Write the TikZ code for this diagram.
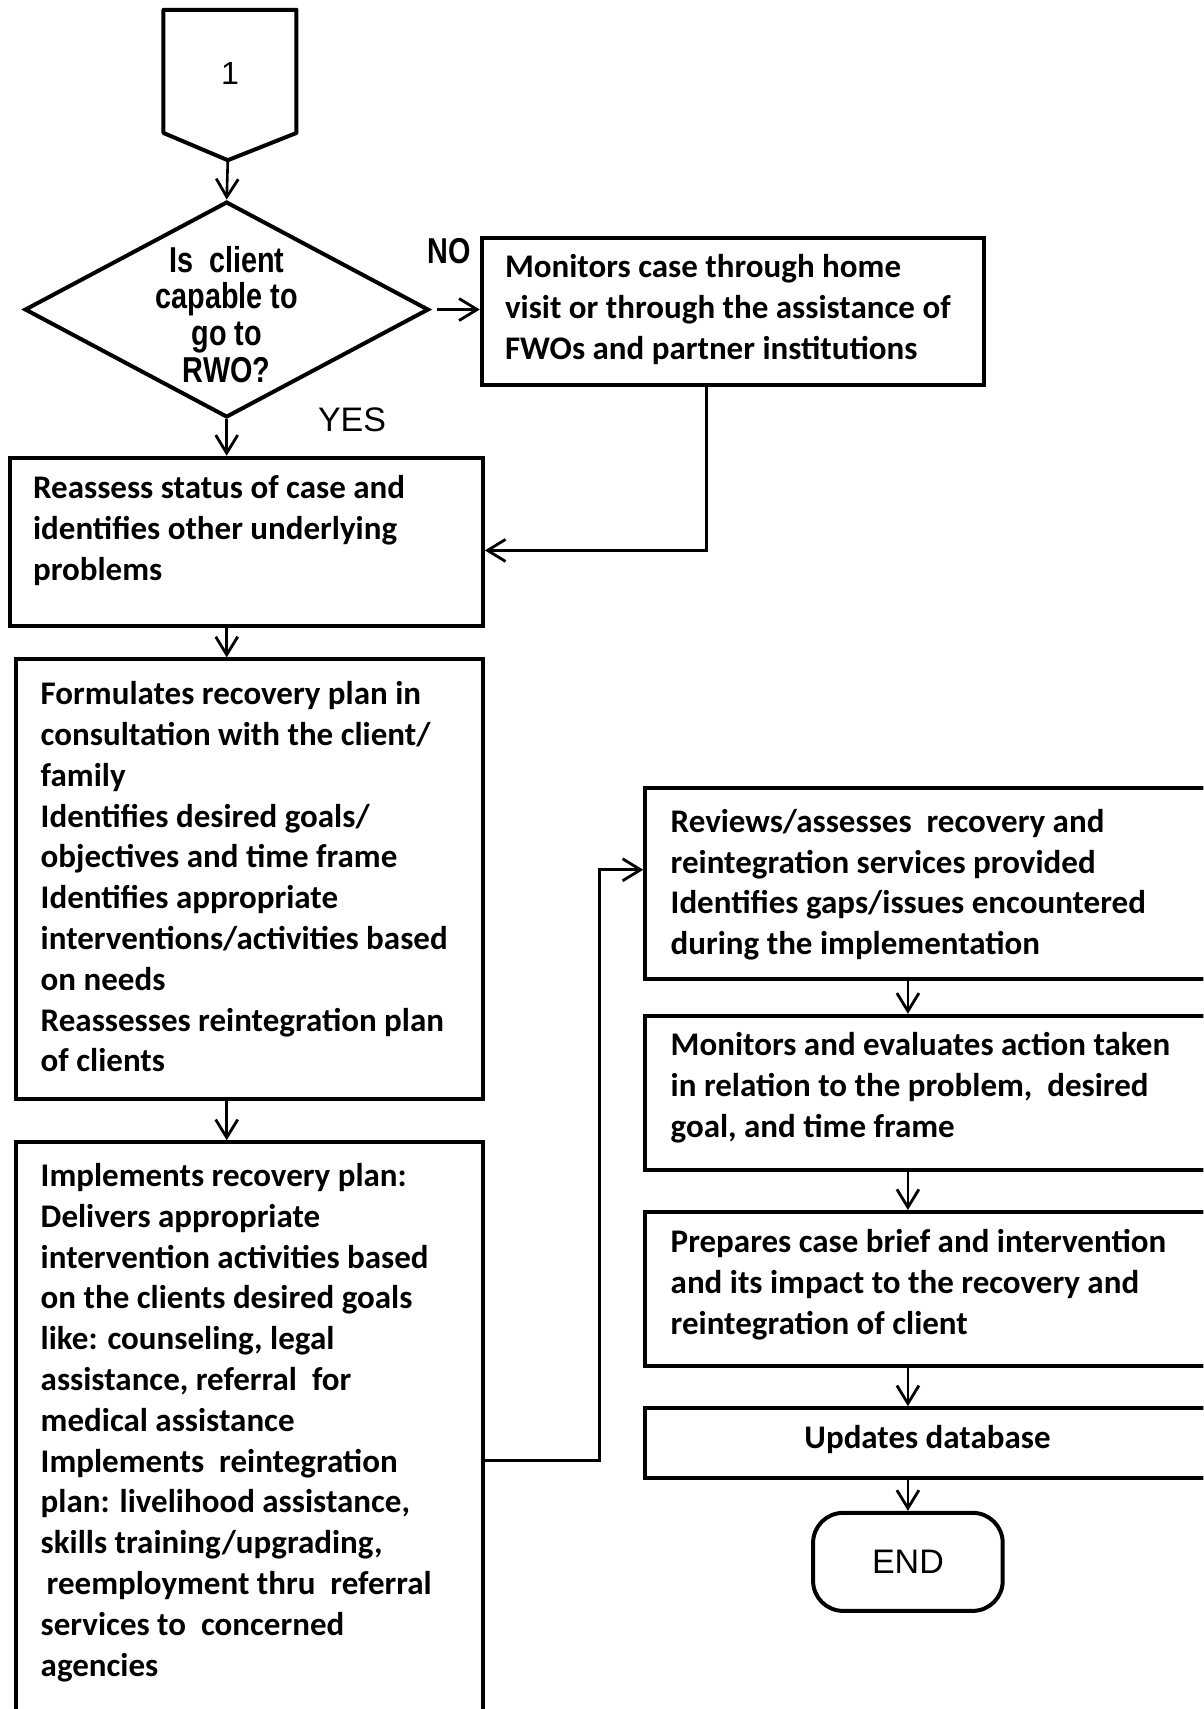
\documentclass[tikz,border=0pt]{standalone}
\usepackage{fontspec}
\setmainfont{Carlito}
\newfontfamily\narrowsans[FakeStretch=0.8]{Liberation Sans}
\newfontfamily\plainsans{Liberation Sans}
\usetikzlibrary{arrows.meta,shapes.geometric,fit}
\begin{document}
\begin{tikzpicture}[x=0.5449pt,y=-0.5449pt,
  outline/.style={draw, line width=2pt, line join=miter},
  box/.style={outline, inner sep=0pt, font=\bfseries\fontsize{16.5}{20.4}\selectfont},
  txt/.style={font=\bfseries\fontsize{16.5}{20.4}\selectfont, align=left, inner sep=0pt, anchor=north west},
  link/.style={line width=1.3pt},
  arr/.style={link, -{Straight Barb[length=9pt,width=11pt,line width=1.4pt]}},
  sign/.style={inner sep=0pt, font=\narrowsans\bfseries\fontsize{18}{20}\selectfont},
]
\useasboundingbox (0,0) rectangle (1104,1568);
\clip (0,0) rectangle (1104,1568);
\fill[white] (0,0) rectangle (1104,1568);

% off-page connector
\coordinate (c-nw) at (150,9);
\coordinate (c-ne) at (272,9);
\coordinate (c-se) at (272,122);
\coordinate (c-tip) at (209,147);
\coordinate (c-sw) at (150,122);
\draw[outline, line join=round] (c-nw) -- (c-ne) -- (c-se) -- (c-tip) -- (c-sw) -- cycle;
\node[inner sep=0pt, font=\plainsans\fontsize{16}{20}\selectfont] (c-lbl) at (211,67) {1};

% decision
\node[diamond, outline, minimum width=202pt, minimum height=107.9pt, inner sep=0pt] (dec) at (208,284) {};
\node[inner sep=0pt, align=center, font=\narrowsans\bfseries\fontsize{18}{18.4}\selectfont] (dec-t) at (208,288.5)
  {Is~ client\\capable to\\go to\\RWO?};
\node[sign] (no) at (412,230) {NO};
\node[inner sep=0pt, font=\plainsans\fontsize{17}{20}\selectfont] (yes) at (323,385) {YES};

% process boxes
\node[box, fit={(442,218) (903,353)}] (visit) {};
\node[box, fit={(9,420) (443,574)}] (reassess) {};
\node[box, fit={(15,605) (443,1008)}] (formulates) {};
\node[box, fit={(15,1048) (443,1600)}] (implements) {};
\node[box, fit={(592,723) (1112,898)}] (reviews) {};
\node[box, fit={(592,932) (1112,1073)}] (moneval) {};
\node[box, fit={(592,1112) (1112,1253)}] (prepares) {};
\node[box, fit={(592,1292) (1112,1356)}] (updates) {};
\node[inner sep=0pt, font=\bfseries\fontsize{16.5}{20.4}\selectfont] (updates-t) at (851,1321) {Updates database};
\node[outline, rounded corners=15pt, minimum width=94.8pt, minimum height=49pt, inner sep=0pt,
  font=\plainsans\fontsize{17}{20}\selectfont] (endnode) at (833,1433) {END};

% box texts
\node[txt] (visit-t) at (463,228) {\strut Monitors case through home\\visit or through the assistance of\\FWOs and partner institutions};
\node[txt] (reassess-t) at (30,431) {\strut Reassess status of case and\\identifies other underlying\\problems};
\node[txt] (formulates-t) at (37,620) {\strut Formulates recovery plan in\\consultation with the client/\\family\\Identifies desired goals/\\objectives and time frame\\Identifies appropriate\\interventions/activities based\\on needs\\Reassesses reintegration plan\\of clients};
\node[txt] (implements-t) at (37,1062) {\strut Implements recovery plan:\\Delivers appropriate\\intervention activities based\\on the clients desired goals\\like: counseling, legal\\assistance, referral~ for\\medical assistance\\Implements~ reintegration\\plan: livelihood assistance,\\skills training/upgrading,\\\hspace*{3pt}reemployment thru~ referral\\services to~ concerned\\agencies};
\node[txt] (reviews-t) at (615,737) {\strut Reviews/assesses~ recovery and\\reintegration services provided\\Identifies gaps/issues encountered\\during the implementation};
\node[txt] (moneval-t) at (615,942) {\strut Monitors and evaluates action taken\\in relation to the problem,~ desired\\goal, and time frame};
\node[txt] (prepares-t) at (615,1123) {\strut Prepares case brief and intervention\\and its impact to the recovery and\\reintegration of client};

% connectors
\coordinate (jog) at (648,505);
\coordinate (loop-b) at (550,1340);
\coordinate (loop-t) at (550,798);
\draw[arr] (c-tip) -- (dec.north);
\draw[arr, shorten <=3pt] (dec.east) -- (dec.east -| visit.west);
\draw[arr] (dec.south) -- (dec.south |- reassess.north);
\draw[arr] (visit.south -| jog) -- (jog) -- (jog -| reassess.east);
\draw[arr] (reassess.south -| dec) -- (formulates.north -| dec);
\draw[arr] (formulates.south -| dec) -- (implements.north -| dec);
\draw[arr] (implements.east |- loop-b) -- (loop-b) -- (loop-t) -- (loop-t -| reviews.west);
\draw[arr] (reviews.south -| endnode) -- (moneval.north -| endnode);
\draw[arr] (moneval.south -| endnode) -- (prepares.north -| endnode);
\draw[arr] (prepares.south -| endnode) -- (updates.north -| endnode);
\draw[arr] (updates.south -| endnode) -- (endnode.north);
\end{tikzpicture}
\end{document}
